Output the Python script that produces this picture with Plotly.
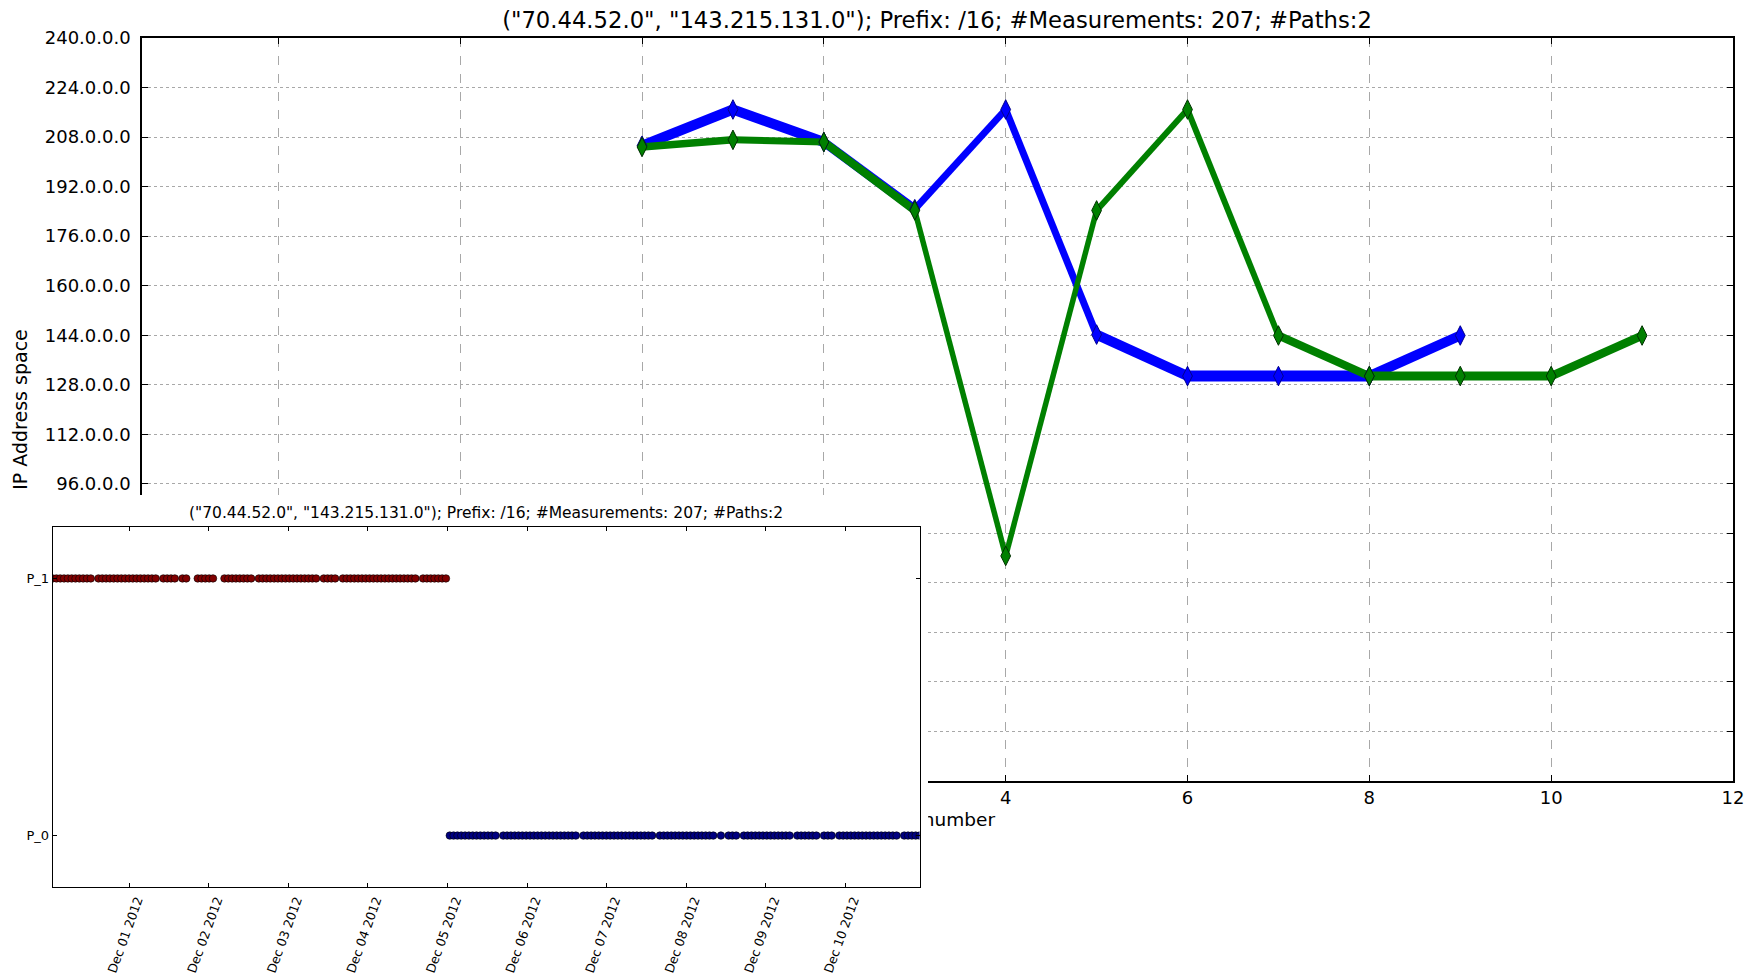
import plotly.graph_objects as go
from datetime import datetime, timedelta

FONT = "DejaVu Sans"
title_text = '("70.44.52.0", "143.215.131.0"); Prefix: /16; #Measurements: 207; #Paths:2'
x_title = "Hop number"
y_title = "IP Address space"

# ---- main chart: IP address (first octet scale) per hop, two paths ----
hops_p0 = [0, 1, 2, 3, 4, 5, 6, 7, 8, 9]
ip_p0 = [205.2, 216.9, 206.4, 184.7, 216.9, 144.2, 130.8, 130.8, 130.8, 143.9]
seg_width_p0 = [10, 10, 9, 7, 7, 10, 11, 11, 10]

hops_p1 = [0, 1, 2, 3, 4, 5, 6, 7, 8, 9, 10, 11]
ip_p1 = [204.8, 207.1, 206.4, 184.3, 72.7, 184.3, 216.9, 143.9, 130.8, 130.8, 130.8, 143.9]
seg_width_p1 = [7.5, 7, 8, 5.5, 5.5, 6, 6, 8, 9, 9, 8.5]

y_ticks = [0, 16, 32, 48, 64, 80, 96, 112, 128, 144, 160, 176, 192, 208, 224, 240]
y_tick_text = [f"{v}.0.0.0" for v in y_ticks]
x_ticks = [-4, -2, 0, 2, 4, 6, 8, 10, 12]

# ---- inset: path observed per measurement (measurement sequence slots) ----
first_measurement = datetime(2012, 11, 30, 0, 54)
slot_minutes = 69.11
slots_p1 = [0, 1, 2, 3, 4, 5, 6, 7, 8, 9, 10,
            12, 13, 14, 15, 16, 17, 18, 19, 20, 21, 22, 23, 24, 25, 26, 27,
            29, 30, 31, 32,
            34, 35,
            38, 39, 40, 41, 42,
            45, 46, 47, 48, 49, 50, 51, 52,
            54, 55, 56, 57, 58, 59, 60, 61, 62, 63, 64, 65, 66, 67, 68, 69,
            71, 72, 73, 74,
            76, 77, 78, 79, 80, 81, 82, 83, 84, 85, 86, 87, 88, 89, 90, 91, 92, 93, 94, 95,
            97, 98, 99, 100, 101, 102, 103]
slots_p0 = [104, 105, 106, 107, 108, 109, 110, 111, 112, 113, 114, 115, 116,
            118, 119, 120, 121, 122, 123, 124, 125, 126, 127, 128, 129, 130, 131, 132, 133, 134, 135, 136, 137,
            139, 140, 141, 142, 143, 144, 145, 146, 147, 148, 149, 150, 151, 152, 153, 154, 155, 156, 157,
            159, 160, 161, 162, 163, 164, 165, 166, 167, 168, 169, 170, 171, 172, 173,
            175,
            177, 178, 179,
            181, 182, 183, 184, 185, 186, 187, 188, 189, 190, 191, 192, 193,
            195, 196, 197, 198, 199, 200,
            202, 203, 204,
            206, 207, 208, 209, 210, 211, 212, 213, 214, 215, 216, 217, 218, 219, 220, 221,
            223, 224, 225, 226, 227]
path_labels = ["P_0", "P_1"]
date_ticks = ["2012-12-01", "2012-12-02", "2012-12-03", "2012-12-04", "2012-12-05",
              "2012-12-06", "2012-12-07", "2012-12-08", "2012-12-09", "2012-12-10"]
date_tick_text = ["Dec 01 2012", "Dec 02 2012", "Dec 03 2012", "Dec 04 2012", "Dec 05 2012",
                  "Dec 06 2012", "Dec 07 2012", "Dec 08 2012", "Dec 09 2012", "Dec 10 2012"]

times_p1 = [first_measurement + timedelta(minutes=s * slot_minutes) for s in slots_p1]
times_p0 = [first_measurement + timedelta(minutes=s * slot_minutes) for s in slots_p0]
t_min = min(times_p1 + times_p0)
t_max = max(times_p1 + times_p0)

X_RANGE = [-5.5, 12]
fig = go.Figure()

# main: line segments with varying width
for hops, ips, widths, col in [(hops_p0, ip_p0, seg_width_p0, "#0000ff"),
                               (hops_p1, ip_p1, seg_width_p1, "#008000")]:
    for i, w in enumerate(widths):
        fig.add_trace(go.Scatter(x=hops[i:i + 2], y=ips[i:i + 2], mode="lines",
                                 line=dict(color=col, width=w), showlegend=False,
                                 hoverinfo="skip", xaxis="x", yaxis="y"))
fig.add_trace(go.Scatter(x=hops_p0, y=ip_p0, mode="markers", showlegend=False,
                         marker=dict(symbol="diamond-tall", size=14, color="#0000ff",
                                     line=dict(color="#00008b", width=1)),
                         xaxis="x", yaxis="y"))
fig.add_trace(go.Scatter(x=hops_p1, y=ip_p1, mode="markers", showlegend=False,
                         marker=dict(symbol="diamond-tall", size=14, color="#008000",
                                     line=dict(color="#003000", width=1)),
                         xaxis="x", yaxis="y"))

# main x-axis title, drawn in a layer below the inset so the inset hides part of it
fig.add_trace(go.Scatter(x=[(X_RANGE[0] + X_RANGE[1]) / 2], y=[0.5], mode="text", text=[x_title],
                         textfont=dict(family=FONT, size=18.5, color="black"),
                         showlegend=False, hoverinfo="skip", xaxis="x2", yaxis="y2"))

# white panel of the pasted inset figure
fig.add_trace(go.Scatter(x=[0, 1, 1, 0, 0], y=[0, 0, 1, 1, 0], mode="lines", fill="toself",
                         fillcolor="white", line=dict(width=0, color="white"),
                         showlegend=False, hoverinfo="skip", xaxis="x3", yaxis="y3"))

# inset scatter
fig.add_trace(go.Scatter(x=times_p1, y=[1] * len(times_p1), mode="markers", showlegend=False,
                         marker=dict(size=7.5, color="#800000", line=dict(color="black", width=0.6)),
                         xaxis="x4", yaxis="y4"))
fig.add_trace(go.Scatter(x=times_p0, y=[0] * len(times_p0), mode="markers", showlegend=False,
                         marker=dict(size=7.5, color="#000080", line=dict(color="black", width=0.6)),
                         xaxis="x4", yaxis="y4"))

W, H = 1754, 975
axis_common = dict(showline=True, linecolor="black", mirror="ticks",
                   ticks="inside", tickcolor="black", zeroline=False, automargin=False)

fig.update_layout(
    width=W, height=H, margin=dict(l=0, r=0, t=0, b=0, pad=0, autoexpand=False),
    paper_bgcolor="white", plot_bgcolor="white", showlegend=False,
    font=dict(family=FONT, color="black"),
    title=dict(text=title_text, x=937 / W, xanchor="center", y=1 - 20 / H, yanchor="middle",
               font=dict(family=FONT, size=22.7, color="black"), automargin=False),
    xaxis=dict(domain=[142 / W, 1733 / W], range=X_RANGE, tickvals=x_ticks,
               ticklen=6, tickfont=dict(size=18), showgrid=True, gridcolor="#a8a8a8",
               griddash="dash", gridwidth=1, anchor="y", linewidth=1.5, **axis_common),
    yaxis=dict(domain=[1 - 781 / H, 1 - 38 / H], range=[0, 240], tickvals=y_ticks,
               ticktext=y_tick_text, ticklen=6, tickfont=dict(size=18), showgrid=True,
               gridcolor="#a8a8a8", griddash="dot", gridwidth=1, anchor="x",
               ticklabelstandoff=6, linewidth=1.5,
               title=dict(text=y_title, font=dict(size=19), standoff=12),
               **axis_common),
    xaxis2=dict(domain=[142 / W, 1733 / W], range=X_RANGE, visible=False, anchor="y2"),
    yaxis2=dict(domain=[1 - 836 / H, 1 - 806 / H], range=[0, 1], visible=False, anchor="x2"),
    xaxis3=dict(domain=[0, 928 / W], range=[0, 1], visible=False, anchor="y3"),
    yaxis3=dict(domain=[0, 1 - 495 / H], range=[0, 1], visible=False, anchor="x3"),
    xaxis4=dict(domain=[52.6 / W, 919.5 / W], type="date", range=[t_min, t_max],
                tickvals=date_ticks, ticktext=date_tick_text, tickangle=-70,
                tickfont=dict(size=12.5), ticklen=4, showgrid=False, anchor="y4",
                ticklabelshift=8, linewidth=1, **axis_common),
    yaxis4=dict(domain=[1 - 887 / H, 1 - 527 / H], range=[-0.2, 1.2], tickvals=[0, 1],
                ticktext=path_labels, tickfont=dict(size=13), ticklen=4, showgrid=False,
                anchor="x4", linewidth=1, **axis_common),
    annotations=[dict(text=title_text, x=486 / W, y=1 - 513 / H, xref="paper", yref="paper",
                      xanchor="center", yanchor="middle", showarrow=False,
                      font=dict(family=FONT, size=15.5, color="black"))],
)

fig.write_html("out.html",
               config={"displayModeBar": False},
               post_script="document.body.style.margin='0';"
                           "document.body.style.overflow='hidden';"
                           "document.documentElement.style.overflow='hidden';")
